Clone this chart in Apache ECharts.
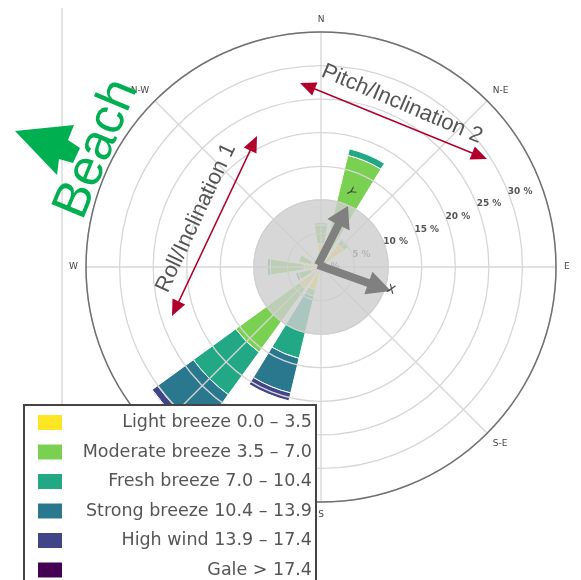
<!DOCTYPE html>
<html><head><meta charset="utf-8">
<script src="https://cdn.jsdelivr.net/npm/echarts@6/dist/echarts.min.js"></script>
<style>html,body{margin:0;padding:0;background:#fff}#c{width:581px;height:580px}</style>
</head><body><div id="c"></div>
<script>
// ---- data ----
const directions = ["N","NNE","NE","ENE","E","ESE","SE","SSE","S","SSW","SW","WSW","W","WNW","NW","NNW"];
const compassLabels = ["N","N-E","E","S-E","S","S-W","W","N-W"];
const lightBreeze    = [3.5, 3.0, 4.2, 0, 0, 0, 0, 0, 0, 3.5, 4.0, 1.5, 2.5, 1.5, 0, 0];
const moderateBreeze = [2.8, 14.1, 1.0, 0, 0, 0, 0, 0, 0, 1.0, 11.7, 2.0, 5.1, 1.9, 0, 0];
const freshBreeze    = [0.3, 1.0, 0, 0, 0, 0, 0, 0, 0, 9.5, 7.8, 0.4, 0.4, 0, 0, 0];
const strongBreeze   = [0, 0, 0, 0, 0, 0, 0, 0, 0, 5.3, 6.6, 0, 0, 0, 0, 0];
const highWind       = [0, 0, 0, 0, 0, 0, 0, 0, 0, 1.2, 1.0, 0, 0, 0, 0, 0];
const gale           = [0, 0, 0, 0, 0, 0, 0, 0, 0, 0, 0.1, 0, 0, 0, 0, 0];
const speedNames = ["Light breeze 0.0 \u2013 3.5","Moderate breeze 3.5 \u2013 7.0","Fresh breeze 7.0 \u2013 10.4","Strong breeze 10.4 \u2013 13.9","High wind 13.9 \u2013 17.4","Gale > 17.4"];
const speedColors = ["#fde725","#7ad151","#22a884","#2a788e","#414487","#440154"];
const speedBins = [lightBreeze, moderateBreeze, freshBreeze, strongBreeze, highWind, gale];
const radialMax = 35, radialStep = 5;

// ---- layout ----
const CX = 321, CY = 267, R = 235;
const diskPct = 10.1;

function arrowPoly(x0,y0,x1,y1,sw,hl,hw){
  const dx=x1-x0, dy=y1-y0, L=Math.hypot(dx,dy), ux=dx/L, uy=dy/L, nx=-uy, ny=ux;
  const bx=x1-ux*hl, by=y1-uy*hl;
  return [[x0+nx*sw/2,y0+ny*sw/2],[bx+nx*sw/2,by+ny*sw/2],[bx+nx*hw/2,by+ny*hw/2],[x1,y1],
          [bx-nx*hw/2,by-ny*hw/2],[bx-nx*sw/2,by-ny*sw/2],[x0-nx*sw/2,y0-ny*sw/2]];
}
function headTri(tx,ty,fx,fy,hl,hw){
  const dx=tx-fx, dy=ty-fy, L=Math.hypot(dx,dy), ux=dx/L, uy=dy/L, nx=-uy, ny=ux;
  const bx=tx-ux*hl, by=ty-uy*hl;
  return [[tx,ty],[bx+nx*hw/2,by+ny*hw/2],[bx-nx*hw/2,by-ny*hw/2]];
}
function doubleArrow(x0,y0,x1,y1,color){
  const hl=16, hw=14;
  const L=Math.hypot(x1-x0,y1-y0), ux=(x1-x0)/L, uy=(y1-y0)/L;
  return [
    {type:'line', z:15, shape:{x1:x0+ux*hl*0.8,y1:y0+uy*hl*0.8,x2:x1-ux*hl*0.8,y2:y1-uy*hl*0.8}, style:{stroke:color,lineWidth:1.5}},
    {type:'polygon', z:15, shape:{points:headTri(x0,y0,x1,y1,hl,hw)}, style:{fill:color}},
    {type:'polygon', z:15, shape:{points:headTri(x1,y1,x0,y0,hl,hw)}, style:{fill:color}}
  ];
}
const deg = Math.PI/180;
const red = '#b2002c', green = '#00b050', gray = '#808080';
const ox = CX-3, oy = CY-2;

const graphics = [
  {type:'line', z:0, shape:{x1:62,y1:8,x2:62,y2:410}, style:{stroke:'#c8c8c8',lineWidth:1}},
  {type:'circle', z:10, shape:{cx:CX, cy:CY, r:R*diskPct/radialMax}, style:{fill:'rgba(205,205,205,0.8)'}},
  {type:'polygon', z:12, shape:{points:arrowPoly(ox,oy,348,206,8,21,25)}, style:{fill:gray}},
  {type:'polygon', z:12, shape:{points:arrowPoly(ox,oy,391,291,8,24,24)}, style:{fill:gray}},
  {type:'text', z:13, x:350, y:192, rotation:-63*deg, style:{text:'Y', fontSize:12, fill:'#444', align:'center', verticalAlign:'middle', fontFamily:'DejaVu Sans'}},
  {type:'text', z:13, x:391, y:290, rotation:-20*deg, style:{text:'X', fontSize:12, fill:'#444', align:'center', verticalAlign:'middle', fontFamily:'DejaVu Sans'}},
  {type:'polygon', z:15, shape:{points:[[15,131],[74,125],[68,140],[80,148],[73,163],[59,159],[57,175]]}, style:{fill:green}},
  {type:'text', z:15, x:97, y:149, rotation:67.5*deg, style:{text:'Beach', fontSize:51, fill:green, align:'center', verticalAlign:'middle', fontFamily:'Liberation Sans'}},
  ...doubleArrow(172,316,257,136,red),
  ...doubleArrow(300,83,487,159,red),
  {type:'text', z:15, x:196, y:218, rotation:65*deg, style:{text:'Roll/Inclination 1', fontSize:22, fill:'#555', align:'center', verticalAlign:'middle', fontFamily:'Liberation Sans'}},
  {type:'text', z:15, x:402, y:104, rotation:-23*deg, style:{text:'Pitch/Inclination 2', fontSize:22, fill:'#555', align:'center', verticalAlign:'middle', fontFamily:'Liberation Sans'}}
];

const hidden = {axisLine:{show:false}, axisTick:{show:false}, axisLabel:{show:false}, splitLine:{show:false}};
const chart = echarts.init(document.getElementById('c'), null, {renderer:'canvas'});
const option = {
  animation:false,
  backgroundColor:'#fff',
  textStyle:{fontFamily:'DejaVu Sans'},
  polar:[{center:[CX,CY], radius:R},{center:[CX,CY], radius:R},{center:[CX,CY], radius:R}],
  angleAxis:[
    Object.assign({polarIndex:0, type:'category', data:directions, startAngle:90, clockwise:true, boundaryGap:false}, hidden),
    {polarIndex:1, type:'value', min:0, max:360, interval:45, startAngle:90, clockwise:true, z:3,
     axisLine:{show:true, lineStyle:{color:'#707070', width:1.5}},
     axisTick:{show:false},
     axisLabel:{margin:8, fontSize:9, color:'#444', formatter:v=> v>=360 ? '' : compassLabels[Math.round(v/45)]},
     splitLine:{show:true, lineStyle:{color:'#d6d6d6', width:1.3}}},
    Object.assign({polarIndex:2, type:'value', min:0, max:360, startAngle:22}, hidden)
  ],
  radiusAxis:[
    Object.assign({polarIndex:0, type:'value', min:0, max:radialMax}, hidden),
    {polarIndex:1, type:'value', min:0, max:radialMax, interval:radialStep, z:3,
     axisLine:{show:false}, axisTick:{show:false}, axisLabel:{show:false},
     splitLine:{show:true, lineStyle:{color:'#d6d6d6', width:1.3}}},
    {polarIndex:2, type:'value', min:0, max:radialMax, interval:radialStep, z:4,
     axisLine:{show:false}, axisTick:{show:false}, splitLine:{show:false},
     axisLabel:{margin:0, align:'left', verticalAlign:'middle', padding:[0,0,10,0], fontSize:9, fontWeight:'bold', color:'#555',
       formatter:v=> v >= radialMax ? '' : v + ' %'}}
  ],
  legend:{
    orient:'vertical', left:24, top:405, height:200, data:speedNames, icon:'rect',
    itemWidth:26, itemHeight:17, itemGap:10.5, selectedMode:false, z:20,
    padding:[8,4,8,12], borderColor:'#444', borderWidth:2, backgroundColor:'#fff', borderRadius:0,
    formatter:n=>'{t|'+n+'}',
    textStyle:{color:'#555', fontSize:17.5, lineHeight:17, rich:{t:{width:244, align:'right', fontSize:17.5, color:'#555', lineHeight:17, fontFamily:'DejaVu Sans'}}}
  },
  series: speedNames.map((name,i)=>({
    type:'bar', coordinateSystem:'polar', polarIndex:0, name, stack:'wind', barWidth:'80%', z:2,
    data: speedBins[i].map(v=> v>0 ? v : '-'),
    itemStyle:{color:speedColors[i], borderColor:'#fff', borderWidth:1}
  })),
  graphic:{elements:graphics}
};
chart.setOption(option);
</script></body></html>
